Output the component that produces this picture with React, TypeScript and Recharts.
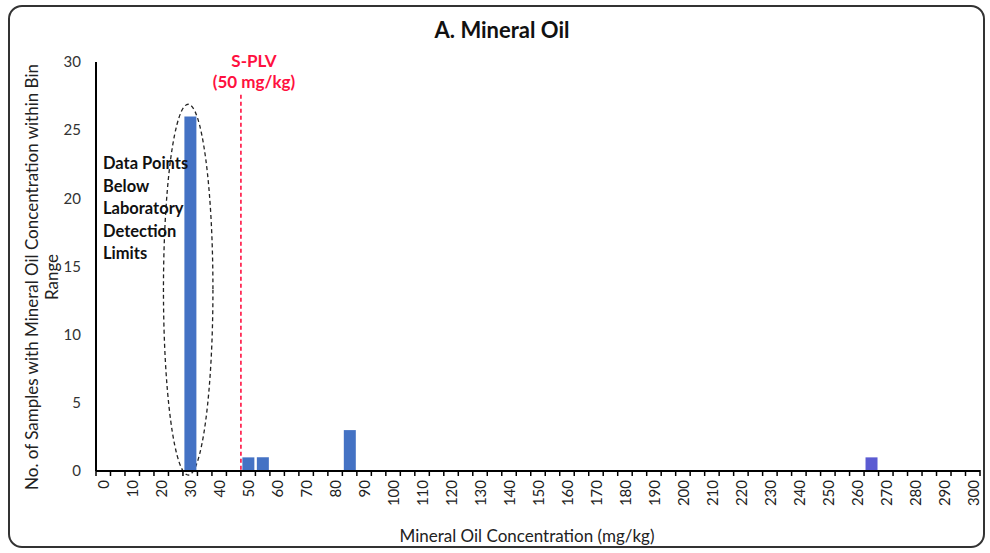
import { BarChart, Bar, XAxis, YAxis, Cell, ReferenceLine, ReferenceArea } from 'recharts'

// Histogram bins (lower edge, mg/kg), 5 mg/kg wide
const binStarts = [
  0, 5, 10, 15, 20, 25, 30, 35, 40, 45, 50, 55, 60, 65, 70, 75, 80, 85, 90, 95,
  100, 105, 110, 115, 120, 125, 130, 135, 140, 145, 150, 155, 160, 165, 170, 175,
  180, 185, 190, 195, 200, 205, 210, 215, 220, 225, 230, 235, 240, 245, 250, 255,
  260, 265, 270, 275, 280, 285, 290, 295, 300,
]

// No. of samples in each bin
const sampleCounts = [
  0, 0, 0, 0, 0, 0, 26, 0, 0, 0, 1, 1, 0, 0, 0, 0, 0, 3, 0, 0,
  0, 0, 0, 0, 0, 0, 0, 0, 0, 0, 0, 0, 0, 0, 0, 0,
  0, 0, 0, 0, 0, 0, 0, 0, 0, 0, 0, 0, 0, 0, 0, 0,
  0, 1, 0, 0, 0, 0, 0, 0, 0,
]

const yTicks = [0, 5, 10, 15, 20, 25, 30]
const labelEvery = 10
const screeningValue = 50
const highlightBins = [265]

const BAR_BLUE = '#4472C4'
const BAR_VIOLET = '#5B5BD2'
const RED = '#FF1040'
const FONT = "Lato, 'Open Sans', sans-serif"

const CHART_W = 973
const CHART_H = 539
const MARGIN = { top: 55, right: 3, left: 0, bottom: 35 }
const Y_AXIS_W = 86
const PLOT_W = CHART_W - MARGIN.left - MARGIN.right - Y_AXIS_W
const BAND = PLOT_W / binStarts.length

const data = binStarts.map((bin, i) => ({ bin, count: sampleCounts[i] }))

function BinTick(props: any) {
  const { x, y, payload, index } = props
  const left = x - BAND / 2
  const isLast = index === binStarts.length - 1
  const showLabel = payload.value % labelEvery === 0
  const ty = y + 9
  return (
    <g>
      <line x1={left} x2={left} y1={y - 1} y2={y + 5} stroke="#000" strokeWidth={1.5} />
      {isLast && (
        <line x1={x + BAND / 2} x2={x + BAND / 2} y1={y - 1} y2={y + 5} stroke="#000" strokeWidth={1.5} />
      )}
      {showLabel && (
        <text
          x={x}
          y={ty}
          transform={`rotate(-90, ${x}, ${ty})`}
          textAnchor="end"
          dominantBaseline="central"
          fontSize={15}
          fontFamily={FONT}
          fill="#222"
        >
          {payload.value}
        </text>
      )}
    </g>
  )
}

function DashedEllipse(props: any) {
  const { x, y, width, height } = props
  return (
    <ellipse
      cx={x + width / 2 - 2}
      cy={y + height / 2}
      rx={width / 2 + 3}
      ry={height / 2}
      fill="none"
      stroke="#222"
      strokeWidth={1.3}
      strokeDasharray="4 3"
    />
  )
}

const annotationLines = ['Data Points', 'Below', 'Laboratory', 'Detection', 'Limits']

export default function App() {
  return (
    <div
      style={{
        position: 'absolute',
        left: 8,
        top: 5,
        width: CHART_W + 4,
        height: CHART_H + 4,
        border: '2px solid #333',
        borderRadius: 14,
        boxSizing: 'border-box',
        background: '#fff',
        fontFamily: FONT,
      }}
    >
      <div style={{ position: 'absolute', left: 0, top: 0 }}>
        <BarChart width={CHART_W} height={CHART_H} data={data} margin={MARGIN}>
          <XAxis
            dataKey="bin"
            type="category"
            interval={0}
            tick={<BinTick />}
            tickLine={false}
            tickSize={0}
            tickMargin={0}
            axisLine={{ stroke: '#000', strokeWidth: 2 }}
            height={40}
          />
          <YAxis
            type="number"
            domain={[0, 30]}
            ticks={yTicks}
            width={Y_AXIS_W}
            tickLine={false}
            tickMargin={9}
            axisLine={{ stroke: '#000', strokeWidth: 2 }}
            tick={{ fontSize: 15, fill: '#333', fontFamily: FONT }}
          />
          <ReferenceArea
            x1={25}
            x2={35}
            y1={-0.3}
            y2={26.9}
            ifOverflow="visible"
            shape={<DashedEllipse />}
          />
          <Bar dataKey="count" isAnimationActive={false}>
            {data.map((d) => (
              <Cell key={d.bin} fill={highlightBins.includes(d.bin) ? BAR_VIOLET : BAR_BLUE} />
            ))}
          </Bar>
          <ReferenceLine
            segment={[
              { x: screeningValue, y: 27.6 },
              { x: screeningValue, y: 0 },
            ]}
            position="start"
            stroke={RED}
            strokeWidth={1.6}
            strokeDasharray="4 3"
            ifOverflow="visible"
          />
        </BarChart>
      </div>
      <svg
        width={CHART_W}
        height={CHART_H}
        style={{ position: 'absolute', left: 0, top: 0, pointerEvents: 'none' }}
        fontFamily={FONT}
      >
        <text x={492} y={31} textAnchor="middle" fontSize={22} fontWeight="bold" fill="#111">
          A. Mineral Oil
        </text>
        <text x={244} y={60} textAnchor="middle" fontSize={17} fontWeight="bold" fill={RED}>
          S-PLV
        </text>
        <text x={244} y={81} textAnchor="middle" fontSize={17} fontWeight="bold" fill={RED}>
          (50 mg/kg)
        </text>
        {annotationLines.map((line, i) => (
          <text
            key={line}
            x={93}
            y={156 + i * 22.6}
            dominantBaseline="central"
            fontSize={16.5}
            fontWeight="bold"
            fill="#111"
          >
            {line}
          </text>
        ))}
        <text
          x={21}
          y={270}
          transform="rotate(-90, 21, 270)"
          textAnchor="middle"
          dominantBaseline="central"
          fontSize={17}
          fill="#222"
        >
          No. of Samples with Mineral Oil Concentration within Bin
        </text>
        <text
          x={41}
          y={270}
          transform="rotate(-90, 41, 270)"
          textAnchor="middle"
          dominantBaseline="central"
          fontSize={17}
          fill="#222"
        >
          Range
        </text>
        <text x={517} y={528} textAnchor="middle" dominantBaseline="central" fontSize={17} fill="#222">
          Mineral Oil Concentration (mg/kg)
        </text>
      </svg>
    </div>
  )
}
